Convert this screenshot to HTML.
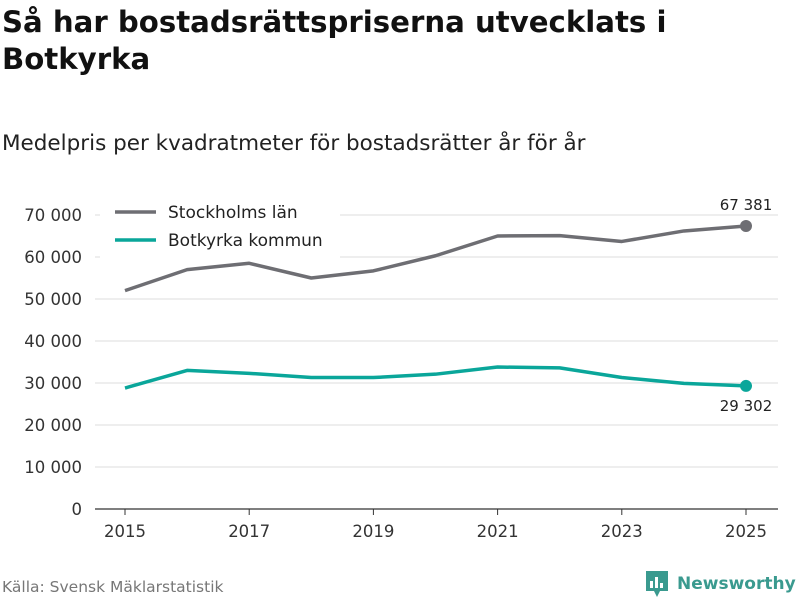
<!DOCTYPE html>
<html><head><meta charset="utf-8"><style>
body{margin:0;width:800px;height:600px;background:#fff;font-family:"DejaVu Sans","Liberation Sans",sans-serif;overflow:hidden;position:relative}
h1{position:absolute;left:2px;top:4px;margin:0;font-size:29.2px;line-height:37px;font-weight:bold;color:#111}
.sub{position:absolute;left:2px;top:131px;font-size:21.5px;color:#222}
.src{position:absolute;left:2px;top:578px;font-size:15.5px;color:#777}
svg text{font-family:"DejaVu Sans","Liberation Sans",sans-serif}
</style></head><body>
<h1>Så har bostadsrättspriserna utvecklats i<br>Botkyrka</h1>
<div class="sub">Medelpris per kvadratmeter för bostadsrätter år för år</div>
<div class="src">Källa: Svensk Mäklarstatistik</div>
<div style="position:absolute;left:645px;top:569px;height:30px;display:flex;align-items:center">
<svg width="24" height="28" viewBox="0 0 24 28"><path d="M1 1h22v20h-8l-3 6-3-6H1z" fill="#3a9a8f"/><rect x="5" y="11" width="3" height="7" fill="#fff"/><rect x="10" y="7" width="3" height="11" fill="#fff"/><rect x="15" y="13" width="3" height="5" fill="#fff"/></svg>
<span style="font-size:17px;font-weight:bold;color:#3a9a8f;margin-left:8px">Newsworthy</span></div>
<svg id="chart" width="800" height="600" style="position:absolute;left:0;top:0"></svg>
<script>
const years=[2015,2016,2017,2018,2019,2020,2021,2022,2023,2024,2025];
const stockholm=[52000,57000,58500,55000,56700,60300,65000,65100,63700,66200,67381];
const botkyrka=[28800,33000,32300,31300,31300,32100,33800,33600,31300,29900,29302];
const yTicks=[0,10000,20000,30000,40000,50000,60000,70000];
const xTicks=[2015,2017,2019,2021,2023,2025];
const svg=document.getElementById('chart');const NS='http://www.w3.org/2000/svg';
const x=v=>125+(v-2015)*(746-125)/10;
const y=v=>509-v*(509-215)/70000;
const fmt=v=>v===0?'0':String(v).replace(/\B(?=(\d{3})+(?!\d))/g,' ');
function mk(t,a,p){const e=document.createElementNS(NS,t);for(const k in a)e.setAttribute(k,a[k]);(p||svg).appendChild(e);return e;}
yTicks.forEach(v=>{
 const l=mk('line',{x1:95,x2:778,y1:y(v),y2:y(v),stroke:v===0?'#333':'#ddd','stroke-width':v===0?1.2:1});
 
 
 const t=mk('text',{x:82,y:y(v)+6,'text-anchor':'end','font-size':16.5,fill:'#333'});t.textContent=fmt(v);
 
 
});
xTicks.forEach(v=>{
 const l=mk('line',{x1:x(v),x2:x(v),y1:509,y2:515,stroke:'#333'});
 
 
 const t=mk('text',{x:x(v),y:537,'text-anchor':'middle','font-size':16.5,fill:'#333'});t.textContent=v;
 
 
});
function series(vals,color,name){
 const p=mk('polyline',{points:vals.map((v,i)=>x(years[i])+','+y(v)).join(' '),fill:'none',stroke:color,'stroke-width':3.5,'stroke-linejoin':'round'});
 
 
 const n=vals.length-1;
 const c=mk('circle',{cx:x(years[n]),cy:y(vals[n]),r:6,fill:color});
 
 
}
series(stockholm,'#6e6e73','stockholm');
series(botkyrka,'#0aa69a','botkyrka');
const n=years.length-1;
let t=mk('text',{x:x(years[n]),y:y(stockholm[n])-16,'text-anchor':'middle','font-size':15,fill:'#222'});t.textContent=fmt(stockholm[n]);


t=mk('text',{x:x(years[n]),y:y(botkyrka[n])+25,'text-anchor':'middle','font-size':15,fill:'#222'});t.textContent=fmt(botkyrka[n]);


const lg=mk('g',{});


mk('rect',{x:100,y:198,width:240,height:60,fill:'#fff'},lg);
[['Stockholms län','#6e6e73',212],['Botkyrka kommun','#0aa69a',240]].forEach(([lab,col,yy])=>{
 const l=mk('line',{x1:115,x2:156,y1:yy,y2:yy,stroke:col,'stroke-width':3.5},lg);
 
 
 const tx=mk('text',{x:168,y:yy+6,'font-size':17,fill:'#222'},lg);tx.textContent=lab;
 
 
});
</script>
</body></html>
